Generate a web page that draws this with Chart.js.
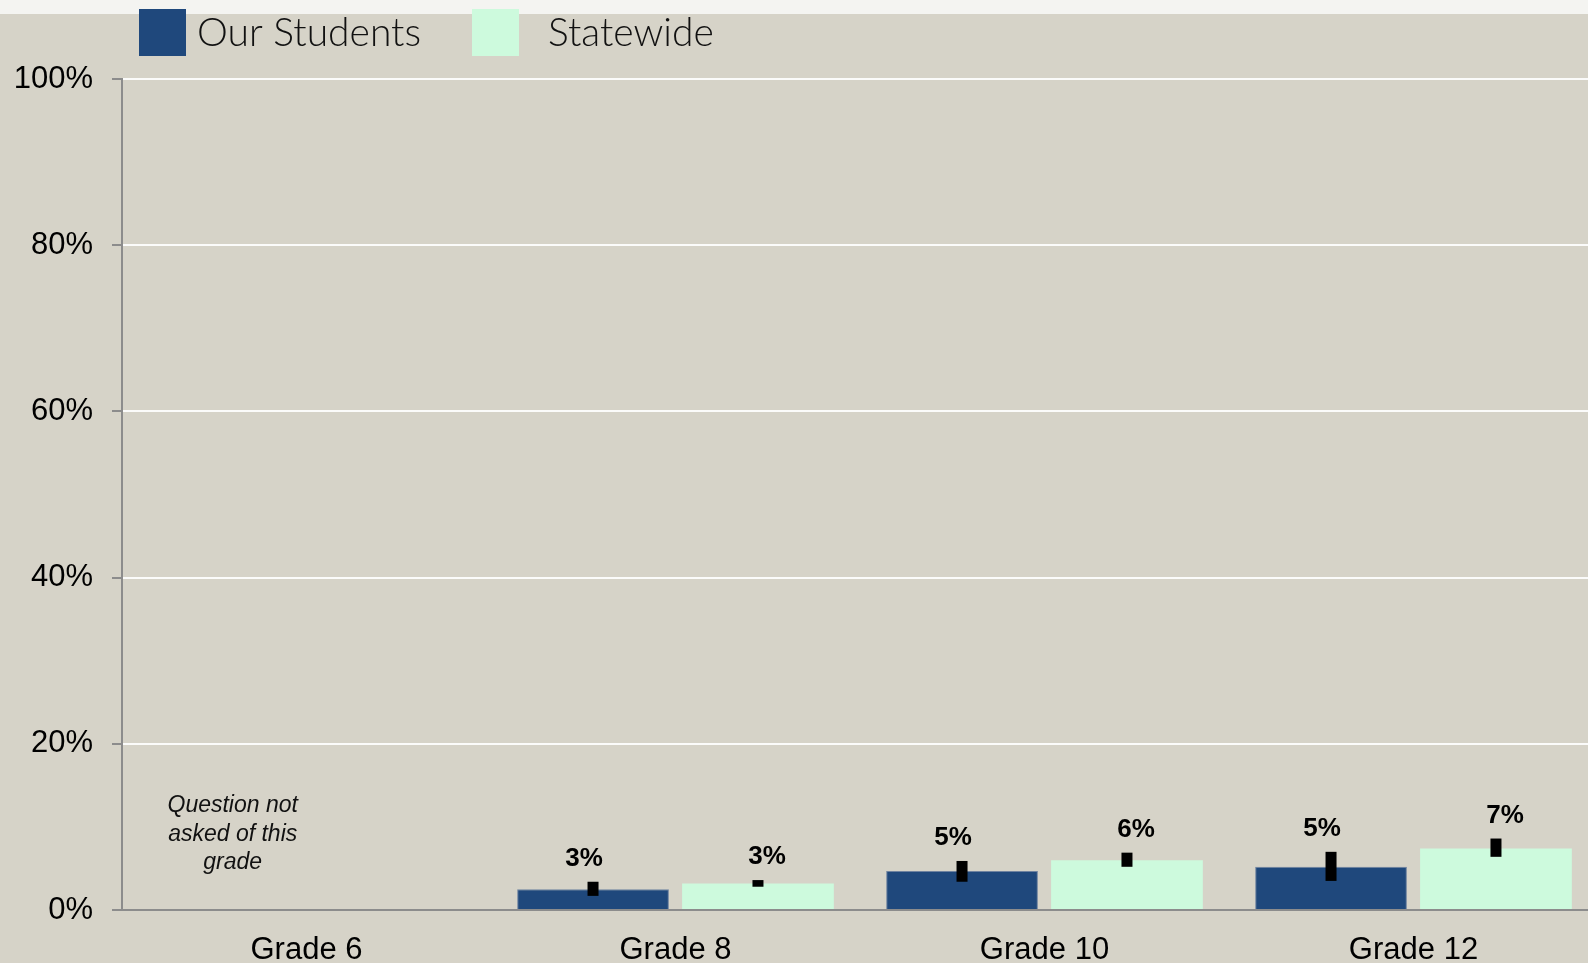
<!DOCTYPE html>
<html>
<head>
<meta charset="utf-8">
<script src="https://cdn.jsdelivr.net/npm/chart.js@4.4.1/dist/chart.umd.min.js"></script>
<style>
    html, body { margin: 0; padding: 0; overflow: hidden; background: #d6d3c8; }
    canvas { display: block; }
</style>
</head>
<body>
<canvas id="chart" width="1600" height="963"></canvas>
<script>
const grades = ['Grade 6', 'Grade 8', 'Grade 10', 'Grade 12'];
const ourStudents = [null, 2.5, 4.7, 5.2];
const statewide = [null, 3.2, 6.0, 7.4];
const ourLow = [null, 1.7, 3.4, 3.5];
const ourHigh = [null, 3.4, 5.9, 7.0];
const stateLow = [null, 2.8, 5.2, 6.4];
const stateHigh = [null, 3.6, 6.9, 8.6];
const yTicks = [0, 20, 40, 60, 80, 100];
const notAskedNote = ['Question not', 'asked of this', 'grade'];
const notAskedLevel = 9.1;

const COLORS = {
    ours: '#1f487c',
    state: '#cdfadd',
    axis: '#8c8c8c',
    grid: 'rgba(255, 255, 255, 0.9)',
    bg: '#d6d3c8',
    strip: '#f4f4f1'
};

const errors = [
    { low: ourLow, high: ourHigh, shift: -9 },
    { low: stateLow, high: stateHigh, shift: 9 }
];

const backgroundPlugin = {
    id: 'background',
    beforeDraw: (chart) => {
        const { ctx, width, height } = chart;
        ctx.save();
        ctx.fillStyle = COLORS.bg;
        ctx.fillRect(0, 0, width, height);
        ctx.fillStyle = COLORS.strip;
        ctx.fillRect(0, 0, width, 14);
        ctx.restore();
    }
};

// black error bars + value labels above them
const errorBarPlugin = {
    id: 'errorBars',
    afterDatasetsDraw: (chart) => {
        const { ctx } = chart;
        const yScale = chart.scales.y;
        ctx.save();
        chart.data.datasets.forEach((ds, i) => {
            const meta = chart.getDatasetMeta(i);
            meta.data.forEach((bar, j) => {
                const value = ds.data[j];
                if (value === null) return;
                const top = yScale.getPixelForValue(errors[i].high[j]);
                const bottom = yScale.getPixelForValue(errors[i].low[j]);
                ctx.fillStyle = '#000';
                ctx.fillRect(bar.x - 5.5, top, 11, bottom - top);

                ctx.font = 'bold 26px "Liberation Sans", Arial, sans-serif';
                ctx.textAlign = 'center';
                ctx.textBaseline = 'alphabetic';
                ctx.fillText(`${Math.round(value)}%`, bar.x + errors[i].shift, top - 16);
            });
        });
        ctx.restore();
    }
};

const notePlugin = {
    id: 'note',
    afterDatasetsDraw: (chart) => {
        const { ctx } = chart;
        const xScale = chart.scales.x;
        const yScale = chart.scales.y;
        const catWidth = xScale.width / grades.length;
        const x = xScale.getPixelForValue(0) - catWidth * 0.2;
        const yMid = yScale.getPixelForValue(notAskedLevel);
        ctx.save();
        ctx.font = 'italic 23px "Liberation Sans", Arial, sans-serif';
        ctx.fillStyle = '#111';
        ctx.textAlign = 'center';
        ctx.textBaseline = 'middle';
        notAskedNote.forEach((line, k) => {
            ctx.fillText(line, x, yMid + (k - 1) * 28.5);
        });
        ctx.restore();
    }
};

const legendPlugin = {
    id: 'customLegend',
    afterDraw: (chart) => {
        const { ctx, chartArea } = chart;
        const boxes = [17, 350];
        const texts = [75, 426];
        ctx.save();
        ctx.font = '300 39px Lato, "DejaVu Sans", sans-serif';
        ctx.textAlign = 'left';
        ctx.textBaseline = 'middle';
        chart.data.datasets.forEach((ds, i) => {
            ctx.fillStyle = ds.backgroundColor;
            ctx.fillRect(chartArea.left + boxes[i], 9, 47, 47);
            ctx.fillStyle = '#111';
            ctx.fillText(ds.label, chartArea.left + texts[i], 33);
        });
        ctx.restore();
    }
};

const chart = new Chart(document.getElementById('chart').getContext('2d'), {
    type: 'bar',
    data: {
        labels: grades,
        datasets: [
            {
                label: 'Our Students',
                data: ourStudents,
                backgroundColor: COLORS.ours,
                borderColor: '#6f83a0',
                borderWidth: 1
            },
            {
                label: 'Statewide',
                data: statewide,
                backgroundColor: COLORS.state,
                borderWidth: 0
            }
        ]
    },
    options: {
        responsive: false,
        animation: false,
        categoryPercentage: 0.894,
        barPercentage: 0.92,
        layout: { padding: { top: 79, right: 2, left: 0, bottom: 0 } },
        plugins: {
            legend: { display: false },
            tooltip: { enabled: false }
        },
        scales: {
            y: {
                min: 0,
                max: 100,
                afterFit: (scale) => { scale.width = 122; },
                afterBuildTicks: (scale) => { scale.ticks = yTicks.map(v => ({ value: v })); },
                ticks: {
                    padding: 19,
                    color: '#000',
                    font: { family: '"Liberation Sans", Arial, sans-serif', size: 31 },
                    callback: (value) => `${value}%`
                },
                grid: {
                    color: (ctx) => ctx.tick && ctx.tick.value === 0 ? 'rgba(0,0,0,0)' : COLORS.grid,
                    tickColor: COLORS.axis,
                    tickLength: 10,
                    lineWidth: 2
                },
                border: { color: COLORS.axis, width: 2 }
            },
            x: {
                afterFit: (scale) => { scale.height = 53; },
                ticks: {
                    padding: 14,
                    color: '#000',
                    font: { family: '"Liberation Sans", Arial, sans-serif', size: 31 }
                },
                grid: { display: false },
                border: { color: COLORS.axis, width: 2 }
            }
        }
    },
    plugins: [backgroundPlugin, errorBarPlugin, notePlugin, legendPlugin]
});
</script>
</body>
</html>
